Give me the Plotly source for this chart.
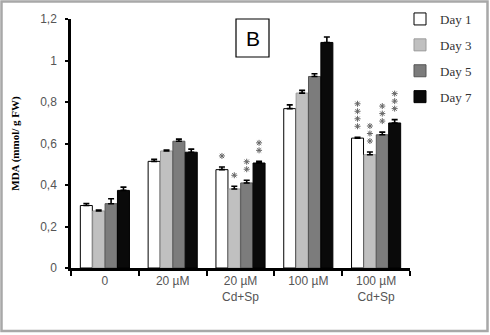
import plotly.graph_objects as go

categories = ["0", "20 µM", "20 µM<br>Cd+Sp", "100 µM", "100 µM<br>Cd+Sp"]
series_names = ["Day 1", "Day 3", "Day 5", "Day 7"]
day1 = [0.301, 0.514, 0.474, 0.768, 0.626]
day3 = [0.275, 0.564, 0.381, 0.843, 0.546]
day5 = [0.310, 0.611, 0.410, 0.923, 0.642]
day7 = [0.374, 0.558, 0.506, 1.087, 0.699]
err1 = [0.010, 0.010, 0.013, 0.018, 0.004]
err3 = [0.004, 0.005, 0.013, 0.013, 0.013]
err5 = [0.024, 0.010, 0.013, 0.013, 0.013]
err7 = [0.016, 0.015, 0.008, 0.026, 0.016]
stars1 = [0, 0, 1, 0, 4]
stars3 = [0, 0, 1, 0, 3]
stars5 = [0, 0, 2, 0, 3]
stars7 = [0, 0, 2, 0, 3]
y_ticks = [0, 0.2, 0.4, 0.6, 0.8, 1, 1.2]

values = [day1, day3, day5, day7]
errors = [err1, err3, err5, err7]
stars = [stars1, stars3, stars5, stars7]
fills = ["#ffffff", "#c0c0c0", "#7c7c7c", "#0a0a0a"]
lines = ["#000000", "#9a9a9a", "#555555", "#000000"]

W, H = 490, 335
ML, MR, MT, MB = 71, 80, 19, 67
Y_MAX = 1.2
bargap = 0.27
bw = (1 - bargap) / 4
pw = W - ML - MR
ph = H - MT - MB
px_per_unit = ph / Y_MAX

fig = go.Figure()
for i in range(4):
    fig.add_trace(go.Bar(
        x=list(range(len(categories))), y=values[i], name=series_names[i],
        legendgroup=series_names[i],
        marker=dict(color=fills[i], line=dict(color=lines[i], width=1)),
        error_y=dict(type="data", array=errors[i], arrayminus=[0] * len(errors[i]),
                     symmetric=False, color="#000000", thickness=1.6, width=3),
    ))

# significance asterisks, stacked above the bars
sx, sy = [], []
for i in range(4):
    off = (i - 1.5) * bw
    for c in range(len(categories)):
        for k in range(stars[i][c]):
            sx.append(c + off)
            sy.append(values[i][c] + errors[i][c] + (11 + k * 7.5) / px_per_unit)
fig.add_trace(go.Scatter(
    x=sx, y=sy, mode="markers", showlegend=False, hoverinfo="skip",
    marker=dict(symbol="asterisk-open", size=5, color="#666666",
                line=dict(color="#666666", width=1)),
))

def px_x(p):
    return (p - ML) / pw
def px_y(p):
    return (H - MB - p) / ph

annotations = [dict(
    x=(px_x(236) + px_x(269)) / 2, y=(px_y(19) + px_y(57)) / 2,
    xref="paper", yref="paper", text="B", showarrow=False,
    xanchor="center", yanchor="middle",
    font=dict(family="Liberation Sans", size=21, color="#000000"),
)]

shapes = [
    dict(type="rect", xref="paper", yref="paper",
         x0=px_x(236), x1=px_x(269), y0=px_y(57), y1=px_y(19),
         line=dict(color="#000000", width=1.2)),
    dict(type="rect", xref="paper", yref="paper",
         x0=px_x(1.5), x1=px_x(487.5), y0=px_y(331), y1=px_y(1.5),
         line=dict(color="#a8a8a8", width=2.5)),
]

fig.update_layout(
    width=W, height=H,
    margin=dict(l=ML, r=MR, t=MT, b=MB, autoexpand=False),
    paper_bgcolor="#ffffff", plot_bgcolor="#ffffff",
    barmode="group", bargap=bargap, bargroupgap=0.03,
    separators=", ",
    showlegend=True,
    legend=dict(x=px_x(400), y=px_y(4), xanchor="left", yanchor="top",
                font=dict(family="Liberation Serif", size=13, color="#333333"),
                tracegroupgap=6, bgcolor="rgba(0,0,0,0)"),
    annotations=annotations, shapes=shapes,
    xaxis=dict(tickvals=list(range(len(categories))), ticktext=categories,
               range=[-0.5, len(categories) - 0.5],
               showline=True, linecolor="#000000", linewidth=2.5,
               ticks="", showgrid=False, zeroline=False,
               minor=dict(tickvals=[c - 0.5 for c in range(len(categories) + 1)],
                          ticks="outside", ticklen=5, tickwidth=2, tickcolor="#000000",
                          showgrid=False),
               tickfont=dict(family="Liberation Sans", size=12, color="#555555")),
    yaxis=dict(range=[0, Y_MAX], tickvals=y_ticks, showline=True, linecolor="#000000",
               linewidth=2.5, ticks="outside", ticklen=3, tickwidth=2,
               tickcolor="#000000", showgrid=False, zeroline=False,
               ticklabelstandoff=6,
               tickfont=dict(family="Liberation Sans", size=12, color="#555555"),
               title=dict(text="<b>MDA (mmol/ g FW)</b>", standoff=19,
                          font=dict(family="Liberation Serif", size=11, color="#000000"))),
)

fig.write_html("out.html", config={"displayModeBar": False},
               post_script="document.body.style.margin='0';")
